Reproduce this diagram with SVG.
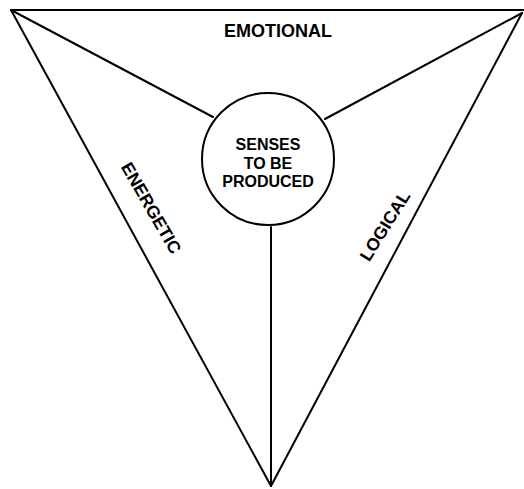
<svg xmlns="http://www.w3.org/2000/svg" width="524" height="489" viewBox="0 0 524 489">
<style>
.ln{stroke:#000;stroke-width:2;fill:none;stroke-linecap:round}
.lbl{font-family:"Liberation Sans",Arial,sans-serif;font-weight:bold;fill:#000;text-anchor:middle}
</style>
<rect width="524" height="489" fill="#fff"/>
<g id="connectors">
<line class="ln" x1="11" y1="10" x2="524" y2="10"/>
<line class="ln" x1="11" y1="10" x2="271" y2="486"/>
<line class="ln" x1="522" y1="13" x2="271" y2="486"/>
<line class="ln" x1="11" y1="10" x2="213" y2="117"/>
<line class="ln" x1="522" y1="13" x2="325" y2="119"/>
<line class="ln" x1="271" y1="227" x2="271" y2="486"/>
</g>
<g id="center">
<circle cx="268" cy="159" r="66" fill="#fff" stroke="#000" stroke-width="2"/>
<text class="lbl" font-size="16" x="268" y="150">SENSES</text>
<text class="lbl" font-size="16" x="268" y="169">TO BE</text>
<text class="lbl" font-size="16" x="268" y="187">PRODUCED</text>
</g>
<g id="emotional">
<text class="lbl" font-size="18" x="278" y="37">EMOTIONAL</text>
</g>
<g id="energetic">
<text class="lbl" font-size="17.5" transform="translate(146,211) rotate(60)">ENERGETIC</text>
</g>
<g id="logical">
<text class="lbl" font-size="17.5" transform="translate(390,229) rotate(-58)">LOGICAL</text>
</g>
</svg>
